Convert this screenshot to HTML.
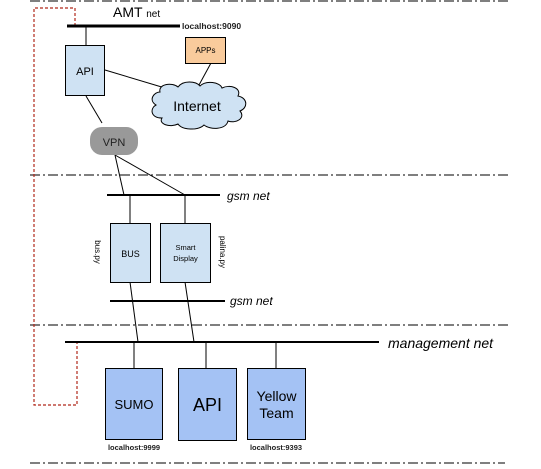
<!DOCTYPE html>
<html><head><meta charset="utf-8"><style>
html,body{margin:0;padding:0;background:#fff;}
svg{display:block;font-family:"Liberation Sans",sans-serif;}
</style></head><body>
<svg width="541" height="469" viewBox="0 0 541 469" xmlns="http://www.w3.org/2000/svg">
<g stroke="#333" stroke-width="1.3" stroke-dasharray="10,3,2,3" fill="none">
<line x1="30" y1="1" x2="510" y2="1"/>
<line x1="30" y1="175" x2="510" y2="175"/>
<line x1="30" y1="325" x2="510" y2="325"/>
<line x1="30" y1="463" x2="505" y2="463"/>
</g>
<polyline points="75,26 75,8 34,8 34,405 77,405 77,342" fill="none" stroke="#b0281a" stroke-width="1.2" stroke-dasharray="3,2"/>
<!-- AMT -->
<text x="113" y="17" font-size="14">AMT <tspan font-size="10">net</tspan></text>
<line x1="67" y1="26" x2="180" y2="26" stroke="#000" stroke-width="3"/>
<text x="182" y="29" font-size="8.5" font-weight="bold" fill="#222">localhost:9090</text>
<g stroke="#000" stroke-width="1" fill="none">
<line x1="86" y1="27" x2="86" y2="45"/>
<line x1="105" y1="70" x2="165" y2="88"/>
<line x1="211" y1="63" x2="199" y2="85"/>
<line x1="86" y1="96" x2="102" y2="123"/>
<line x1="115" y1="155" x2="124" y2="195"/>
<line x1="115" y1="155" x2="185" y2="195"/>
<line x1="130" y1="195" x2="130" y2="223"/>
<line x1="185" y1="195" x2="185" y2="223"/>
<line x1="130" y1="282" x2="138" y2="342"/>
<line x1="185" y1="282" x2="194" y2="342"/>
<line x1="134" y1="342" x2="134" y2="368"/>
<line x1="206" y1="342" x2="206" y2="368"/>
<line x1="276" y1="342" x2="276" y2="368"/>
</g>
<rect x="65.5" y="45.5" width="39" height="50" fill="#cfe2f3" stroke="#000"/>
<text x="85" y="75" font-size="11" text-anchor="middle">API</text>
<rect x="185.5" y="37.5" width="40" height="26" fill="#f9cb9c" stroke="#000"/>
<text x="205.5" y="53" font-size="8" text-anchor="middle">APPs</text>
<path d="M160,92 C158,84 172,82 178,87 C183,80 196,81 200,86 C206,80 220,82 222,88 C230,84 242,88 238,96 C248,98 248,108 240,111 C246,118 236,124 228,121 C226,130 210,130 204,125 C198,131 182,130 178,124 C170,128 158,124 162,118 C150,118 150,108 156,105 C148,100 154,92 160,92 Z" fill="#cfe2f3" stroke="#000" stroke-width="1"/>
<text x="197" y="111" font-size="14" text-anchor="middle">Internet</text>
<rect x="90" y="127" width="48" height="28" rx="12" fill="#999"/>
<text x="114" y="146" font-size="11" text-anchor="middle" fill="#222">VPN</text>
<!-- gsm -->
<line x1="107" y1="195" x2="220" y2="195" stroke="#000" stroke-width="2"/>
<text x="227" y="200" font-size="12" font-style="italic">gsm net</text>
<rect x="110.5" y="223.5" width="40" height="59" fill="#cfe2f3" stroke="#000"/>
<text x="130.5" y="257" font-size="9" text-anchor="middle">BUS</text>
<rect x="160.5" y="223.5" width="50" height="59" fill="#cfe2f3" stroke="#000"/>
<text x="185.5" y="250" font-size="7.5" text-anchor="middle">Smart</text>
<text x="185.5" y="261" font-size="7.5" text-anchor="middle">Display</text>
<text transform="translate(95,252) rotate(90)" font-size="8" text-anchor="middle">bus.py</text>
<text transform="translate(220,252) rotate(90)" font-size="8" text-anchor="middle">palina.py</text>
<line x1="110" y1="301" x2="225" y2="301" stroke="#000" stroke-width="2"/>
<text x="230" y="305" font-size="12" font-style="italic">gsm net</text>
<!-- management -->
<line x1="65" y1="342" x2="379" y2="342" stroke="#000" stroke-width="2"/>
<text x="388" y="348" font-size="14" font-style="italic">management net</text>
<rect x="105.5" y="368.5" width="57" height="71" fill="#a4c2f4" stroke="#000"/>
<text x="134" y="409" font-size="13" text-anchor="middle">SUMO</text>
<rect x="178.5" y="368.5" width="58" height="72" fill="#a4c2f4" stroke="#000"/>
<text x="207.5" y="411" font-size="18" text-anchor="middle">API</text>
<rect x="247.5" y="368.5" width="58" height="71" fill="#a4c2f4" stroke="#000"/>
<text x="276.5" y="401" font-size="14" text-anchor="middle">Yellow</text>
<text x="276.5" y="418" font-size="14" text-anchor="middle">Team</text>
<text x="134" y="450" font-size="7.5" font-weight="bold" text-anchor="middle" fill="#222">localhost:9999</text>
<text x="276" y="450" font-size="7.5" font-weight="bold" text-anchor="middle" fill="#222">localhost:9393</text>
</svg>
</body></html>
